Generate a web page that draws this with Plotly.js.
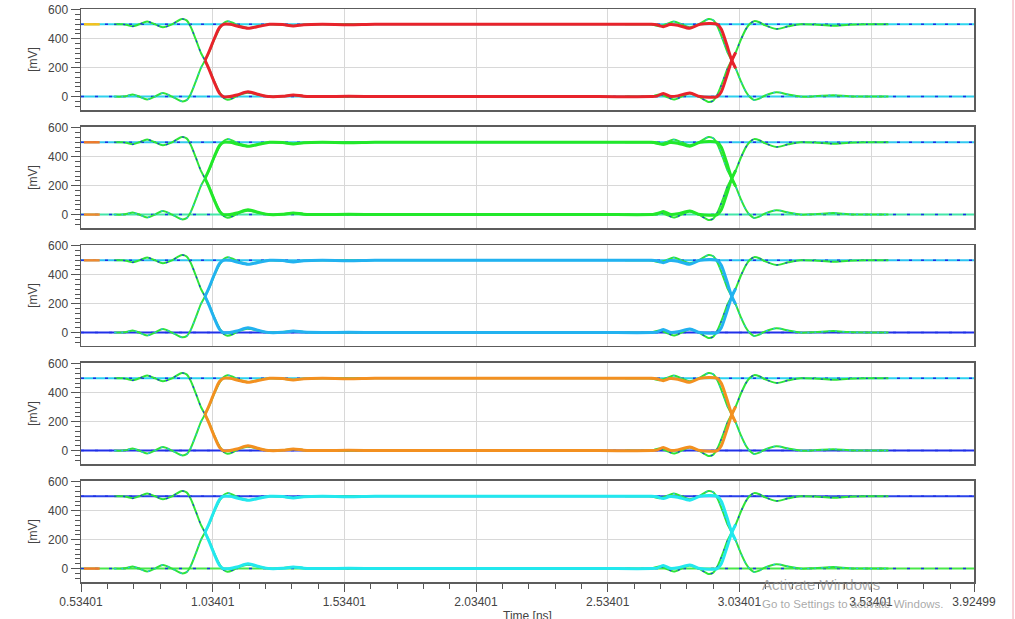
<!DOCTYPE html>
<html>
<head>
<meta charset="utf-8">
<script src="https://cdn.plot.ly/plotly-3.0.1.min.js"></script>
<style>
html,body{margin:0;padding:0;background:#ffffff;}
#chart{width:1015px;height:619px;}
</style>
</head>
<body>
<div id="chart"></div>
<script>
// ---------------- DATA ----------------
const xTickVals = [0.53401, 1.03401, 1.53401, 2.03401, 2.53401, 3.03401, 3.53401, 3.92499];
const xTickText = ["0.53401", "1.03401", "1.53401", "2.03401", "2.53401", "3.03401", "3.53401", "3.92499"];
const yTickVals = [0, 200, 400, 600];

// steady levels across the full record
const tFlat = [0.53401, 3.92499];
const vHigh = [500, 500];
const vLow = [0, 0];

// edge group around 1.0 ns (time in ns, value in mV)
const tEdge1 = [0.66, 0.69, 0.71, 0.73, 0.755, 0.785, 0.815, 0.845, 0.88, 0.917, 0.935, 0.95, 0.97, 0.99, 1.005, 1.02, 1.04, 1.06, 1.075, 1.09, 1.11, 1.13, 1.168, 1.21, 1.25, 1.30, 1.34, 1.38, 1.45, 1.60];
const vRise1 = [0, 0, 5, 14, 0, -21, 0, 25, 0, -33, -25, 15, 105, 200, 250, 305, 395, 470, 508, 522, 512, 492, 474, 488, 500, 497, 489, 497, 500, 500];
const vFall1 = [500, 500, 495, 486, 500, 519, 500, 480, 500, 537, 527, 485, 395, 300, 250, 195, 105, 30, -8, -22, -12, 8, 27, 12, 0, 3, 11, 3, 0, 0];

// edge group around 3.0 ns
const tEdge3 = [2.60, 2.69, 2.71, 2.73, 2.755, 2.785, 2.815, 2.845, 2.88, 2.917, 2.935, 2.95, 2.97, 2.99, 3.005, 3.02, 3.04, 3.06, 3.075, 3.09, 3.11, 3.13, 3.175, 3.22, 3.265, 3.32, 3.39, 3.45, 3.52, 3.60];
const vRise3 = [0, 0, 5, 14, 0, -21, 0, 22, 0, -37, -28, 12, 100, 198, 250, 305, 395, 470, 505, 522, 514, 494, 468, 486, 500, 498, 490, 497, 500, 500];
const vFall3 = [500, 500, 495, 486, 500, 519, 500, 480, 500, 537, 528, 488, 400, 302, 250, 195, 105, 30, -5, -24, -14, 6, 30, 14, 0, 2, 10, 3, 0, 0];

// dominant (highest density) pulse path
const tMain = [1.005, 1.02, 1.04, 1.06, 1.075, 1.10, 1.13, 1.168, 1.21, 1.25, 1.30, 1.34, 1.38, 1.45, 1.55, 1.65, 1.90, 2.20, 2.50, 2.70, 2.72, 2.745, 2.77, 2.80, 2.846, 2.885, 2.95, 2.965, 2.985, 3.005, 3.02];
const vMainHigh = [250, 310, 400, 478, 500, 500, 487, 473, 486, 500, 498, 489, 497, 500, 497, 500, 500, 500, 500, 500, 497, 484, 498, 494, 473, 500, 500, 468, 365, 252, 195];
const vMainLow = [250, 190, 100, 22, 0, 0, 13, 33, 14, 0, 2, 11, 3, 0, 2, 0, 0, 0, 0, 0, 3, 21, 2, 5, 25, 0, 0, 32, 135, 248, 305];

// short high-density spots near the record start
const tHot = [0.545, 0.605];

// ---------------- STYLE ----------------
const BLUE = '#1f2fe6';
const GREEN = '#2ee43a';
const panels = [
  {main:'#e8232b', top:'#2fd6ee', bot:'#2fd0ee', hotTop:'#f7c21c', hotBot:null},
  {main:'#22e82a', top:'#33c8f0', bot:'#45e6a8', hotTop:'#f07a2a', hotBot:'#f08a30'},
  {main:'#22b2f0', top:'#2cc4f2', bot:'#2030ea', hotTop:'#f08a30', hotBot:null},
  {main:'#f39020', top:'#2cd2f0', bot:'#2030ea', hotTop:null, hotBot:null},
  {main:'#22e8ee', top:'#2a44ea', bot:'#48e84a', hotTop:null, hotBot:'#f07a2a'}
];

const domains = [[0.8237, 1.0], [0.6178, 0.7941], [0.4119, 0.5881], [0.2059, 0.3822], [0.0, 0.1763]];
const tickFont = {family:'Liberation Sans, Arial, sans-serif', size:12, color:'#444'};

const traces = [];
function line(x, y, i, color, width, dash, shape){
  traces.push({x:x, y:y, xaxis:'x'+(i+1), yaxis:'y'+(i+1), type:'scatter', mode:'lines',
    hoverinfo:'skip', showlegend:false,
    line:{color:color, width:width, dash:dash||'solid', shape:shape||'spline', smoothing:0.8}});
}

panels.forEach((p, i) => {
  line(tFlat, vHigh, i, p.top, 2, 'solid', 'linear');
  line(tFlat, vLow, i, p.bot, 2, 'solid', 'linear');
  line(tFlat, vHigh, i, BLUE, 1.5, '3px,9px', 'linear');
  line(tFlat, vLow, i, BLUE, 1.5, '3px,11px', 'linear');
  line(tEdge1, vRise1, i, GREEN, 2);
  line(tEdge1, vFall1, i, GREEN, 2);
  line(tEdge3, vRise3, i, GREEN, 2);
  line(tEdge3, vFall3, i, GREEN, 2);
  line(tEdge1, vRise1, i, '#27b8f0', 1.2, '2px,5px');
  line(tEdge1, vFall1, i, BLUE, 1.2, '2px,7px');
  line(tEdge3, vRise3, i, BLUE, 1.2, '2px,7px');
  line(tEdge3, vFall3, i, '#27b8f0', 1.2, '2px,5px');
  line(tMain, vMainHigh, i, p.main, 3);
  line(tMain, vMainLow, i, p.main, 3);
  if (p.hotTop) line(tHot, vHigh, i, p.hotTop, 2.5, 'solid', 'linear');
  if (p.hotBot) line(tHot, vLow, i, p.hotBot, 2.5, 'solid', 'linear');
});

const layout = {
  width:1015, height:619,
  margin:{l:81, r:41, t:9, b:37},
  paper_bgcolor:'#ffffff', plot_bgcolor:'#ffffff',
  showlegend:false,
  font:tickFont,
  annotations:[
    {xref:'paper', yref:'paper', x:0.5, y:-0.0602, xanchor:'center', yanchor:'middle', showarrow:false,
     text:'Time [ns]', font:{family:'Liberation Sans, Arial, sans-serif', size:12, color:'#444'}},
    {xref:'paper', yref:'paper', x:0.7604, y:-0.0052, xanchor:'left', yanchor:'middle', showarrow:false,
     text:'Activate Windows', font:{family:'Liberation Sans, Arial, sans-serif', size:15, color:'rgba(140,140,140,0.75)'}},
    {xref:'paper', yref:'paper', x:0.7604, y:-0.0384, xanchor:'left', yanchor:'middle', showarrow:false,
     text:'Go to Settings to activate Windows.', font:{family:'Liberation Sans, Arial, sans-serif', size:11.5, color:'rgba(140,140,140,0.75)'}}
  ],
  shapes:[
    {type:'line', xref:'paper', yref:'paper', x0:1.0437, x1:1.0437, y0:-0.07, y1:1.02, line:{color:'#f0a4b4', width:1}}
  ]
};

for (let i = 0; i < 5; i++){
  const last = (i === 4);
  layout['xaxis' + (i+1)] = {
    domain:[0,1], range:[0.53401, 3.92499], anchor:'y'+(i+1),
    tickmode:'array', tickvals:xTickVals, ticktext:xTickText,
    showticklabels:last, ticks:last?'outside':'', ticklen:8, tickcolor:'#555', tickfont:tickFont,
    showgrid:true, gridcolor:'#d8d8d8', gridwidth:1, zeroline:false,
    showline:true, linecolor:'#5c5c5c', linewidth:1.5, mirror:true,
    minor: last ? {ticks:'outside', ticklen:5, tick0:0.53401, dtick:0.1, tickcolor:'#555', showgrid:false} : {ticks:'', showgrid:false},
    title:{text:''}
  };
  layout['yaxis' + (i+1)] = {
    domain:domains[i], range:[-93, 606], anchor:'x'+(i+1),
    tickmode:'array', tickvals:yTickVals, ticks:'outside', ticklen:9, tickcolor:'#555', tickfont:tickFont,
    minor:{ticks:'outside', ticklen:5, tick0:0, dtick:200/6, tickcolor:'#555', showgrid:false},
    showgrid:true, gridcolor:'#d8d8d8', gridwidth:1, zeroline:false,
    showline:true, linecolor:'#5c5c5c', linewidth:1.5, mirror:true,
    title:{text:'[mV]', standoff:8, font:{family:'Liberation Sans, Arial, sans-serif', size:12, color:'#444'}}
  };
}

Plotly.newPlot('chart', traces, layout, {displayModeBar:false, staticPlot:true});
</script>
</body>
</html>
